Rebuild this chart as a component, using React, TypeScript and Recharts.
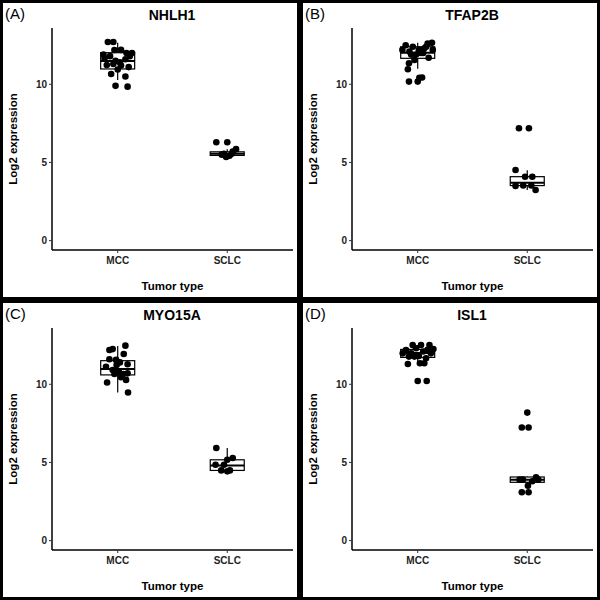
import { ComposedChart, Bar, Scatter, XAxis, YAxis } from "recharts";

const groups = ["MCC", "SCLC"];
const genes = ["NHLH1", "TFAP2B", "MYO15A", "ISL1"];
const panelTags = ["(A)", "(B)", "(C)", "(D)"];
const yTicks = [0, 5, 10];

// box stats: [lower whisker, q1, median, q3, upper whisker], MCC then SCLC
const nhlh1Box = [[10.27, 10.98, 11.49, 12.02, 12.66], [5.3, 5.45, 5.56, 5.68, 5.85]];
const tfap2bBox = [[11.0, 11.66, 12.02, 12.4, 12.66], [3.24, 3.52, 3.7, 4.09, 4.5]];
const myo15aBox = [[9.47, 10.6, 10.98, 11.51, 12.45], [4.43, 4.49, 4.81, 5.17, 5.92]];
const isl1Box = [[11.3, 11.72, 12.0, 12.23, 12.51], [3.5, 3.73, 3.9, 4.07, 4.1]];

// samples (log2 expression) and their horizontal jitter
const nhlh1MccExpr = [12.7, 12.7, 12.19, 12.2, 12.0, 11.66, 11.8, 11.5, 11.4, 11.6, 11.8, 11.23, 11.3, 11.2, 11.1, 11.9, 10.66, 10.5, 9.9, 9.85, 12.0, 10.95];
const nhlh1MccJitter = [-0.09, -0.04, -0.03, 0.03, 0.08, -0.12, -0.07, -0.02, 0.02, 0.07, 0.11, -0.1, -0.04, 0.03, 0.1, -0.13, -0.06, 0.07, -0.02, 0.09, 0.13, 0.0];
const nhlh1SclcExpr = [6.29, 6.29, 5.43, 5.55, 5.7, 5.85, 5.35, 5.5, 5.55];
const nhlh1SclcJitter = [-0.1, 0.0, 0.02, -0.03, 0.05, 0.08, -0.01, -0.05, 0.04];

const tfap2bMccExpr = [10.96, 10.17, 10.17, 10.42, 10.43, 11.34, 11.55, 11.9, 12.5, 12.4, 12.2, 12.3, 12.6, 12.65, 12.0, 11.7, 12.2, 11.9, 12.0, 12.4, 12.1, 12.2];
const tfap2bMccJitter = [-0.09, -0.08, 0.0, 0.015, 0.04, -0.08, -0.03, -0.06, -0.11, -0.045, 0.01, 0.06, 0.09, 0.13, 0.05, 0.1, -0.14, -0.015, 0.03, 0.076, -0.076, 0.137];
const tfap2bSclcExpr = [7.19, 7.19, 4.52, 4.09, 4.09, 3.5, 3.53, 3.53, 3.24];
const tfap2bSclcJitter = [-0.076, 0.015, -0.107, -0.02, 0.046, -0.107, -0.037, 0.037, 0.076];

const myo15aMccExpr = [12.19, 12.25, 12.47, 11.94, 11.6, 11.56, 11.4, 11.28, 11.12, 10.91, 10.8, 10.66, 10.28, 10.11, 9.47, 10.66, 10.45, 11.24, 10.7];
const myo15aMccJitter = [-0.076, -0.046, 0.07, 0.055, -0.076, -0.015, 0.02, 0.09, -0.107, -0.046, 0.01, 0.05, 0.076, -0.097, 0.094, -0.03, 0.03, -0.01, 0.09];
const myo15aSclcExpr = [5.92, 5.28, 5.17, 4.85, 4.85, 4.49, 4.49, 4.43];
const myo15aSclcJitter = [-0.1, 0.05, 0.0, -0.107, -0.03, -0.055, 0.024, 0.0];

const isl1MccExpr = [10.21, 10.21, 11.3, 11.35, 11.35, 12.51, 12.51, 12.51, 12.19, 11.98, 12.3, 12.1, 12.2, 11.98, 11.77, 11.81, 11.66, 11.77, 12.25, 11.98];
const isl1MccJitter = [0.0, 0.082, -0.09, 0.02, 0.06, -0.046, 0.03, 0.107, -0.107, -0.06, -0.015, 0.05, 0.09, 0.12, -0.08, 0.01, 0.076, -0.03, 0.143, -0.137];
const isl1SclcExpr = [8.19, 7.24, 7.24, 3.09, 3.09, 3.51, 4.05, 3.9, 3.8, 3.9, 3.9];
const isl1SclcJitter = [0.0, -0.05, 0.012, -0.05, 0.012, 0.006, 0.08, 0.1, 0.046, -0.04, -0.07];

const boxes = [nhlh1Box, tfap2bBox, myo15aBox, isl1Box];
const samples = [
  [[nhlh1MccExpr, nhlh1MccJitter], [nhlh1SclcExpr, nhlh1SclcJitter]],
  [[tfap2bMccExpr, tfap2bMccJitter], [tfap2bSclcExpr, tfap2bSclcJitter]],
  [[myo15aMccExpr, myo15aMccJitter], [myo15aSclcExpr, myo15aSclcJitter]],
  [[isl1MccExpr, isl1MccJitter], [isl1SclcExpr, isl1SclcJitter]],
];

const FONT = '"Liberation Sans", Arial, Helvetica, sans-serif';
const BOX_W = 34;

const whiskerRange = (d: any) => (d && d.stats ? [d.stats[0], d.stats[4]] : null);

function BoxShape(props: any) {
  const { x, y, width, height, payload } = props;
  if (!payload || !payload.stats || x == null || y == null) return null;
  const [lo, q1, med, q3, hi] = payload.stats;
  const top = Math.min(y, y + height);
  const h = Math.abs(height);
  const k = h / (hi - lo);
  const py = (v: number) => top + (hi - v) * k;
  const cx = x + (width || 0) / 2;
  const bx = cx - BOX_W / 2;
  return (
    <g>
      <line x1={cx} x2={cx} y1={py(hi)} y2={py(lo)} stroke="#000" strokeWidth={1.2} />
      <rect x={bx} y={py(q3)} width={BOX_W} height={py(q1) - py(q3)} fill="#fff" stroke="#000" strokeWidth={1.2} />
      <line x1={bx} x2={bx + BOX_W} y1={py(med)} y2={py(med)} stroke="#000" strokeWidth={2} />
    </g>
  );
}

function Dot(props: any) {
  if (props.cx == null || props.cy == null) return null;
  return <circle cx={props.cx} cy={props.cy} r={3.3} fill="#000" />;
}

function Panel({ idx }: { idx: number }) {
  const boxData = groups.map((g, i) => ({ x: i + 1, name: g, stats: boxes[idx][i] }));
  const points = samples[idx].flatMap(([expr, jit], gi) =>
    expr.map((v, k) => ({ x: gi + 1 + jit[k], y: v }))
  );
  const tickStyle = { fill: "#222", fontSize: 10, fontWeight: 700, fontFamily: FONT };
  return (
    <div
      style={{
        position: "relative",
        width: 300,
        height: 300,
        boxSizing: "border-box",
        border: "3px solid #000",
        background: "#fff",
        fontFamily: FONT,
      }}
    >
      <div style={{ position: "absolute", left: 2, top: 3, fontSize: 15, lineHeight: "15px", color: "#000" }}>
        {panelTags[idx]}
      </div>
      <div
        style={{
          position: "absolute",
          left: 169,
          top: 5,
          transform: "translateX(-50%)",
          fontSize: 14,
          lineHeight: "14px",
          fontWeight: 700,
          color: "#000",
          whiteSpace: "nowrap",
        }}
      >
        {genes[idx]}
      </div>
      <ComposedChart width={294} height={294} data={boxData} margin={{ top: 25, right: 4, left: 5, bottom: 17 }}>
        <XAxis
          dataKey="x"
          type="number"
          domain={[0.4, 2.6]}
          ticks={[1, 2]}
          tickFormatter={(v: number) => groups[Math.round(v) - 1] ?? ""}
          tick={tickStyle}
          tickSize={3}
          tickMargin={4}
          height={30}
          axisLine={{ stroke: "#000", strokeWidth: 1.5 }}
          tickLine={{ stroke: "#333" }}
          label={{ value: "Tumor type", position: "bottom", offset: 2, fill: "#000", fontSize: 11.5, fontWeight: 700, fontFamily: FONT }}
        />
        <YAxis
          dataKey="y"
          type="number"
          domain={[-0.6, 13.6]}
          ticks={yTicks}
          allowDataOverflow
          tick={tickStyle}
          tickSize={3}
          tickMargin={2}
          width={44}
          axisLine={{ stroke: "#000", strokeWidth: 1.5 }}
          tickLine={{ stroke: "#333" }}
          label={{
            value: "Log2 expression",
            angle: -90,
            position: "insideLeft",
            offset: 5,
            fill: "#000",
            fontSize: 11.5,
            fontWeight: 700,
            fontFamily: FONT,
            style: { textAnchor: "middle" },
          }}
        />
        <Bar dataKey={whiskerRange} barSize={BOX_W} shape={<BoxShape />} isAnimationActive={false} />
        <Scatter data={points} dataKey="y" shape={<Dot />} isAnimationActive={false} />
      </ComposedChart>
    </div>
  );
}

export default function App() {
  return (
    <div
      style={{
        position: "absolute",
        left: 0,
        top: 0,
        width: 600,
        height: 600,
        display: "grid",
        gridTemplateColumns: "300px 300px",
        gridTemplateRows: "300px 300px",
        background: "#fff",
      }}
    >
      {genes.map((g, i) => (
        <Panel key={g} idx={i} />
      ))}
    </div>
  );
}
